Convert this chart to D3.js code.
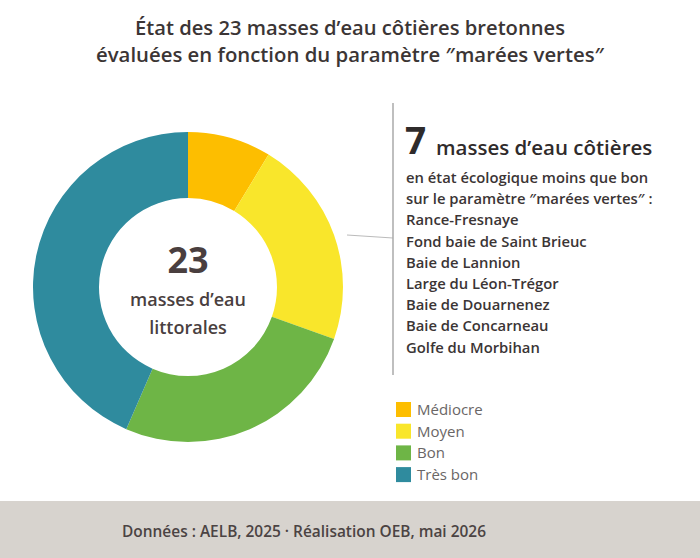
<!DOCTYPE html>
<html><head><meta charset="utf-8">
<script src="https://cdn.jsdelivr.net/npm/d3@7"></script>
<style>body{margin:0;background:#fff}svg{display:block}text{font-family:"Open Sans",sans-serif}</style>
</head><body><svg id="c" width="700" height="558"></svg>
<script>
const categories = ["Médiocre","Moyen","Bon","Très bon"];
const values = [2,5,6,10];
const colors = ["#FDBE00","#F9E62B","#6EB546","#2F8B9E"];
const titleLines = ["État des 23 masses d’eau côtières bretonnes","évaluées en fonction du paramètre ″marées vertes″"];
const sites = ["Rance-Fresnaye","Fond baie de Saint Brieuc","Baie de Lannion","Large du Léon-Trégor","Baie de Douarnenez","Baie de Concarneau","Golfe du Morbihan"];
const source = "Données : AELB, 2025 · Réalisation OEB, mai 2026";

const svg = d3.select("#c");
const dark = "#3b3535";

svg.append("rect").attr("x",0).attr("y",501).attr("width",700).attr("height",57).attr("fill","#d7d3ce");
svg.append("text").attr("x",122).attr("y",537).attr("font-size",17).attr("font-weight",600)
  .attr("fill","#4b4343").attr("textLength",364).attr("lengthAdjust","spacingAndGlyphs").text(source);

const titleWidths = [430,508];
titleLines.forEach((t,i)=>svg.append("text").attr("x",350).attr("y",35+i*27).attr("text-anchor","middle")
  .attr("font-size",19.6).attr("font-weight",600).attr("fill",dark)
  .attr("textLength",titleWidths[i]).attr("lengthAdjust","spacingAndGlyphs").text(t));

const total = d3.sum(values);
const cx=188, cy=287;
const pie = d3.pie().sort(null).value(d=>d)(values);
const arc = d3.arc().innerRadius(89).outerRadius(155);
const g = svg.append("g").attr("transform",`translate(${cx},${cy})`);
g.selectAll("path").data(pie).join("path").attr("d",arc).attr("fill",(d,i)=>colors[i]);
g.append("text").attr("y",-14).attr("text-anchor","middle").attr("font-size",36).attr("font-weight",700).attr("fill","#4a3f3f").text(total);
g.append("text").attr("y",19).attr("text-anchor","middle").attr("font-size",18).attr("font-weight",600).attr("fill","#4a3f3f").text("masses d’eau");
g.append("text").attr("y",47).attr("text-anchor","middle").attr("font-size",18).attr("font-weight",600).attr("fill","#4a3f3f").text("littorales");

// connector
svg.append("line").attr("x1",347).attr("y1",235).attr("x2",393).attr("y2",238).attr("stroke","#bbb").attr("stroke-width",1);
svg.append("line").attr("x1",393).attr("y1",103).attr("x2",393).attr("y2",375).attr("stroke","#aaa").attr("stroke-width",1.5);

const lessThanGood = values[0]+values[1];
svg.append("text").attr("x",405).attr("y",154).attr("font-size",37).attr("font-weight",700).attr("fill","#2f2b2b").text(lessThanGood);
svg.append("text").attr("x",436).attr("y",155).attr("font-size",20.5).attr("font-weight",600).attr("fill","#2f2b2b").text("masses d’eau côtières");
const lines = ["en état écologique moins que bon","sur le paramètre ″marées vertes″ :"].concat(sites);
lines.forEach((t,i)=>svg.append("text").attr("x",406).attr("y",183+i*21.2).attr("font-size",14.8).attr("font-weight",600).attr("fill",dark).text(t));

const leg = svg.append("g");
categories.forEach((c,i)=>{
  leg.append("rect").attr("x",396).attr("y",402+i*21.7).attr("width",15).attr("height",15).attr("fill",colors[i]);
  leg.append("text").attr("x",417).attr("y",415+i*21.7).attr("font-size",15).attr("fill","#6a6666").text(c);
});
</script></body></html>
